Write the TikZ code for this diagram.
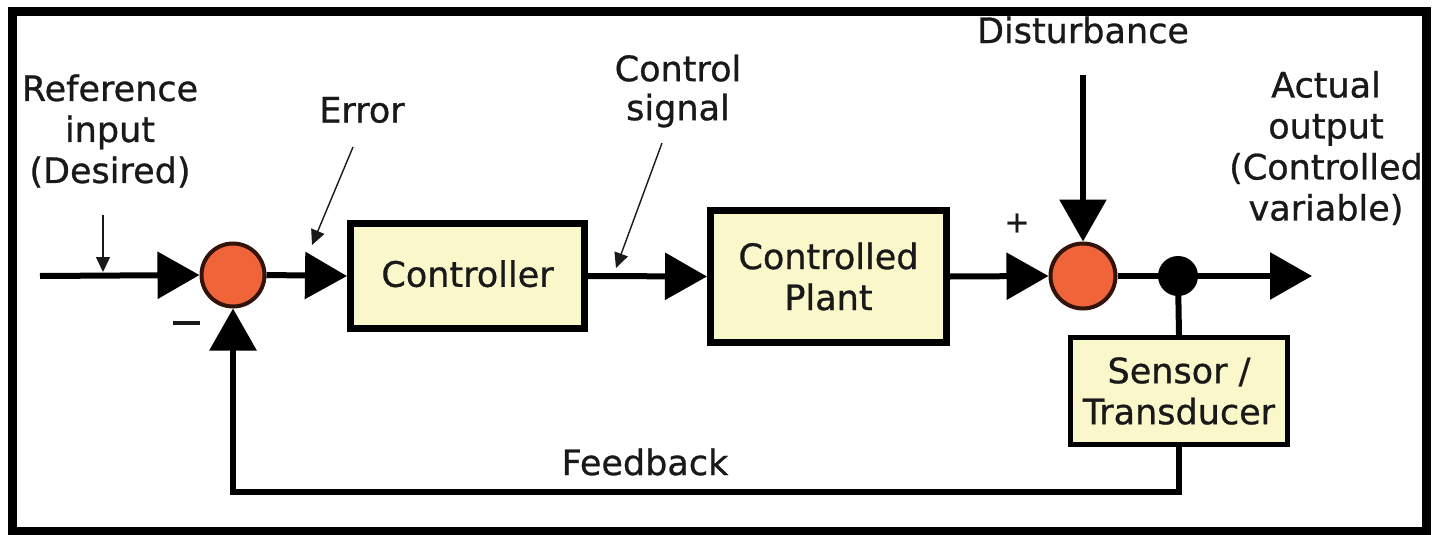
\documentclass[tikz,border=0pt]{standalone}
\usepackage{fontspec}
\setmainfont{DejaVu Sans}[FakeBold=0.8]
\usetikzlibrary{arrows.meta}
\definecolor{boxfill}{RGB}{250,248,202}
\definecolor{sumfill}{RGB}{240,100,58}
\definecolor{sumedge}{RGB}{50,20,10}
\definecolor{ink}{RGB}{25,25,25}
\begin{document}
\begin{tikzpicture}[x=1pt,y=-1pt,
  txt/.style={font=\fontsize{35}{41}\selectfont, text=ink, inner sep=0pt, align=center},
  block/.style={draw=black, fill=boxfill, line width=7pt, inner sep=0pt, txt},
  sumnode/.style={circle, draw=sumedge, fill=sumfill, line width=4pt, minimum size=63pt, inner sep=0pt},
  sig/.style={line width=6pt, draw=black, line join=miter},
  bigtip/.style={-{Triangle[length=42pt,width=46pt]}},
  pointer/.style={line width=1.4pt, draw=ink, -{Triangle[length=15pt,width=14pt]}}
]
\useasboundingbox (0,0) rectangle (1432,535);
\fill[white] (0,0) rectangle (1432,535);

% blocks
\node[sumnode] (s1) at (233,275) {};
\node[block, minimum width=234pt, minimum height=105pt] (ctrl) at (467.5,276) {\raisebox{5pt}{Controller}};
\node[block, minimum width=236pt, minimum height=132pt] (plant) at (828.5,276.5) {Controlled\\Plant};
\node[sumnode, minimum size=65pt] (s2) at (1083,276) {};
\node[circle, fill=black, minimum size=40pt, inner sep=0pt] (dot) at (1178,276) {};
\node[block, line width=5pt, minimum width=217pt, minimum height=107pt] (sens) at (1179,391) {Sensor /\\Transducer};

% labels
\node[txt] (lref) at (110,131) {Reference\\input\\(Desired)};
\node[txt] (lerr) at (362,110) {Error};
\node[txt, font=\fontsize{35}{39}\selectfont] (lcs) at (678,91) {Control\\signal};
\node[txt] (ldist) at (1083,30) {Disturbance};
\node[txt] (lout) at (1326,148) {Actual\\output\\(Controlled\\variable)};
\node[txt] (lfb) at (645,462) {Feedback};
\node[txt] (lminus) at (186,323) {\rule{27pt}{4pt}};
\node[txt, font=\fontsize{30}{30}\selectfont] (lplus) at (1017,223) {+};

% free ends
\coordinate (in) at (40,276);
\coordinate (out) at (1312,276);
\coordinate (dtop) at (1083,75);
\coordinate (fbc) at (233,492);
\coordinate (rp1) at (103,215);
\coordinate (rp2) at (103,272);
\coordinate (ep1) at (353,147);
\coordinate (ep2) at (312,245);
\coordinate (cp1) at (662,143);
\coordinate (cp2) at (616,268);

% signal lines
\draw[sig,bigtip] (in) -- (s1.west);
\draw[sig,bigtip] (s1.east) -- (ctrl.west);
\draw[sig,bigtip] (ctrl.east) -- (plant.west);
\draw[sig,bigtip] (plant.east) -- (s2.west);
\draw[sig,bigtip] (dtop) -- (s2.north);
\draw[sig] (s2.east) -- (dot.center);
\draw[sig,bigtip] (dot.center) -- (out);
\draw[sig] (dot.center) -- (sens.north);
\draw[sig,bigtip] (sens.south) |- (fbc) -- (s1.south);

% label pointers
\draw[pointer] (rp1) -- (rp2);
\draw[pointer] (ep1) -- (ep2);
\draw[pointer] (cp1) -- (cp2);

% frame
\draw[line width=9pt] (12.5,12) rectangle (1426.5,531);
\end{tikzpicture}
\end{document}
